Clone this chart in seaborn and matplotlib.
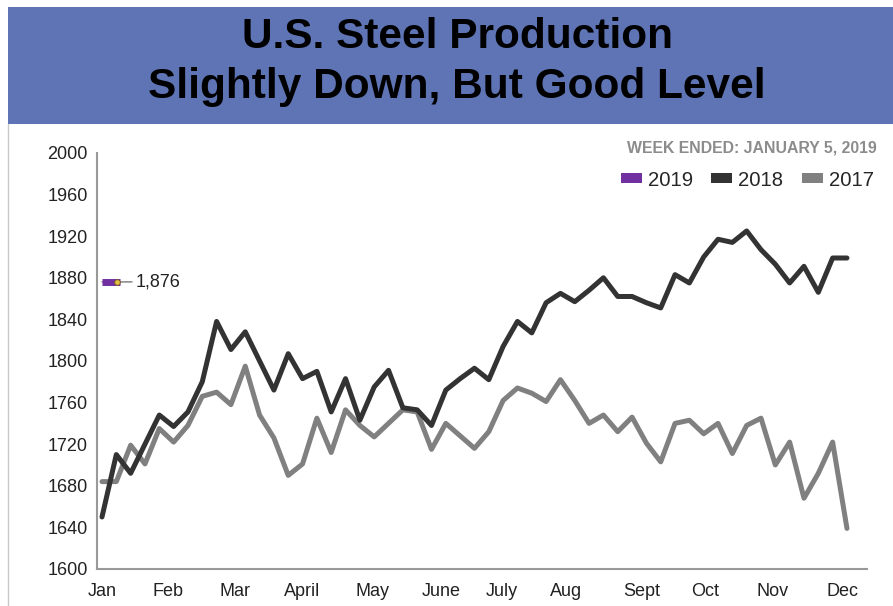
import pandas as pd
import matplotlib
matplotlib.use("Agg")
import matplotlib.pyplot as plt
import seaborn as sns
from matplotlib import font_manager
from matplotlib.patches import Patch, Rectangle
from matplotlib.lines import Line2D
from matplotlib.transforms import offset_copy

# weekly raw steel production (thousand net tons)
weeks = list(range(53))
prod_2018 = [1650, 1710, 1692, 1720, 1748, 1737, 1751, 1780, 1838, 1811,
             1828, 1800, 1772, 1807, 1783, 1790, 1751, 1783, 1743, 1775,
             1791, 1755, 1753, 1738, 1772, 1783, 1793, 1782, 1814, 1838,
             1827, 1856, 1865, 1857, 1868, 1880, 1862, 1862, 1856, 1851,
             1883, 1875, 1900, 1917, 1914, 1925, 1907, 1893, 1875, 1891,
             1866, 1899, 1899]
prod_2017 = [1684, 1684, 1719, 1701, 1735, 1722, 1738, 1766, 1770, 1758,
             1795, 1748, 1726, 1690, 1701, 1745, 1712, 1753, 1738, 1727,
             1740, 1753, 1751, 1715, 1740, 1728, 1716, 1732, 1762, 1774,
             1769, 1761, 1782, 1762, 1740, 1748, 1732, 1746, 1721, 1703,
             1740, 1743, 1730, 1740, 1711, 1738, 1745, 1700, 1722, 1668,
             1692, 1722, 1639]
weeks_2019 = [0]
prod_2019 = [1876]

month_labels = ["Jan", "Feb", "Mar", "April", "May", "June",
                "July", "Aug", "Sept", "Oct", "Nov", "Dec"]
month_pos = [0.05, 4.6, 9.25, 14.0, 18.9, 23.7, 27.9, 32.4, 37.7, 42.1, 46.8, 51.7]
y_ticks = [1600, 1640, 1680, 1720, 1760, 1800, 1840, 1880, 1920, 1960, 2000]

colors = {"2019": "#7030A0", "2018": "#333333", "2017": "#808080"}

sns.set_style("white")
names = {f.name for f in font_manager.fontManager.ttflist}
if "Liberation Sans Narrow" in names:
    narrow, fs = "Liberation Sans Narrow", 15.5
else:
    narrow, fs = "Liberation Sans", 13
plt.rcParams['font.family'] = [narrow, 'DejaVu Sans']

df = pd.concat([
    pd.DataFrame({"week": weeks, "prod": prod_2018, "year": "2018"}),
    pd.DataFrame({"week": weeks, "prod": prod_2017, "year": "2017"}),
])

fig = plt.figure(figsize=(8.93, 6.06), dpi=100)
ax = fig.add_axes([0.1086, 0.0611, 0.8623, 0.6865])

# title banner
fig.patches.append(Rectangle((8 / 893, 1 - 124 / 606), 885 / 893, 117 / 606,
                             transform=fig.transFigure, facecolor="#5E74B5",
                             edgecolor="none", zorder=0))
fig.lines.append(Line2D([8 / 893, 8 / 893], [0, 1 - 124 / 606], transform=fig.transFigure,
                        color="#c8c8c8", lw=1))
title_font = ["Liberation Sans", "DejaVu Sans"]
fig.text(0.512, 1 - 37 / 606, "U.S. Steel Production", ha="center", va="center",
         fontsize=30.5, fontweight="bold", family=title_font, color="black")
fig.text(0.512, 1 - 87 / 606, "Slightly Down, But Good Level", ha="center", va="center",
         fontsize=30.5, fontweight="bold", family=title_font, color="black")

sns.lineplot(data=df, x="week", y="prod", hue="year", palette=colors,
             hue_order=["2017", "2018"], linewidth=3.6, legend=False, ax=ax)

# 2019 first reading
ax.annotate("1,876", xy=(weeks_2019[0], prod_2019[0]), xytext=(24, 0),
            textcoords="offset points", va="center", ha="left", fontsize=fs,
            color="#222222",
            arrowprops=dict(arrowstyle="-", color="#777777", lw=1, shrinkA=0, shrinkB=0))
bar_tr = offset_copy(ax.transData, fig=fig, x=9, y=0, units="dots")
ax.plot(weeks_2019, prod_2019, transform=bar_tr, marker="_", ms=13, mew=5,
        color=colors["2019"], zorder=5)
dot_tr = offset_copy(ax.transData, fig=fig, x=15, y=0, units="dots")
ax.plot(weeks_2019, prod_2019, transform=dot_tr, marker="o", ms=4,
        mfc="#e0c040", mec="#7a5a20", mew=0.6, zorder=6)

ax.set_xlim(-0.35, 53.4)
ax.set_ylim(1600, 2000)
ax.set_yticks(y_ticks)
ax.set_xticks(month_pos)
ax.set_xticklabels(month_labels)
ax.set_xlabel("")
ax.set_ylabel("")
ax.tick_params(axis="y", direction="in", length=13, width=1.5, color="#999999",
               pad=6.5, labelsize=fs, labelcolor="#222222")
ax.tick_params(axis="x", length=0, pad=10, labelsize=fs, labelcolor="#222222")
for side in ["top", "right"]:
    ax.spines[side].set_visible(False)
for side in ["left", "bottom"]:
    ax.spines[side].set_color("#999999")
    ax.spines[side].set_linewidth(1.5)

fig.text(877 / 893, 1 - 148 / 606, "WEEK ENDED: JANUARY 5, 2019", ha="right", va="center",
         fontsize=fs * 0.88, fontweight="bold", color="#8c8c8c")

handles = [Patch(facecolor=colors[y], edgecolor="none", label=y) for y in ["2019", "2018", "2017"]]
fig.legend(handles=handles, loc="center right", bbox_to_anchor=(874 / 893, 1 - 180 / 606),
           ncol=3, frameon=False, fontsize=fs * 1.12, handlelength=1.05, handleheight=0.4,
           handletextpad=0.3, columnspacing=0.9, borderpad=0, borderaxespad=0)

fig.savefig("out.png", dpi=100)
